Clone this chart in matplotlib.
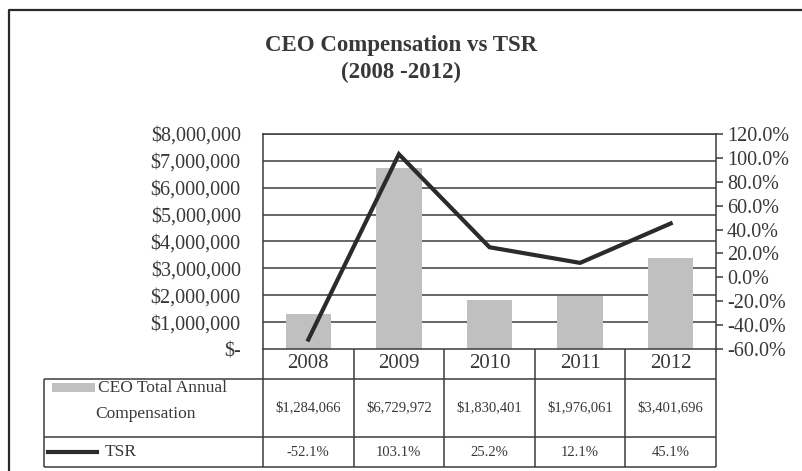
import numpy as np
import matplotlib
matplotlib.use("Agg")
import matplotlib.pyplot as plt
from matplotlib.patches import Rectangle

# Chart data
years = ["2008", "2009", "2010", "2011", "2012"]
comp = [1284066, 6729972, 1830401, 1976061, 3401696]
tsr = [-52.1, 103.1, 25.2, 12.1, 45.1]
comp_labels = ["$1,284,066", "$6,729,972", "$1,830,401", "$1,976,061", "$3,401,696"]
tsr_labels = ["-52.1%", "103.1%", "25.2%", "12.1%", "45.1%"]
left_ticks = [0, 1e6, 2e6, 3e6, 4e6, 5e6, 6e6, 7e6, 8e6]
right_ticks = [-60, -40, -20, 0, 20, 40, 60, 80, 100, 120]

plt.rcParams["font.family"] = ["Liberation Serif", "DejaVu Serif"]
txt = "#383838"
grid_c = "#3c3c3c"
bar_c = "#c0c0c0"
line_c = "#2b2b2b"

W, H = 802, 471
fig = plt.figure(figsize=(W / 100, H / 100), dpi=100)

# pixel-coordinate overlay for frame and table
tax = fig.add_axes([0, 0, 1, 1])
tax.set_xlim(0, W)
tax.set_ylim(H, 0)
tax.axis("off")

# plot area in pixels
px0, px1, py0, py1 = 263, 716, 134, 349
ax = fig.add_axes([px0 / W, (H - py1) / H, (px1 - px0) / W, (py1 - py0) / H])
x = np.arange(len(years))
ax.bar(x, comp, width=0.5, color=bar_c, zorder=2)
ax.set_xlim(-0.5, len(years) - 0.5)
ax.set_ylim(0, 8e6)
ax.set_yticks(left_ticks)
ax.set_yticklabels(["$-"] + ["${:,.0f}".format(v) for v in left_ticks[1:]])
ax.tick_params(axis="y", length=0, pad=16, labelsize=14.5, labelcolor=txt)
ax.set_xticks([])
for v in left_ticks[1:]:
    ax.axhline(v, color=grid_c, lw=1.1, zorder=1)
for s in ["left", "right", "top", "bottom"]:
    ax.spines[s].set_color(grid_c)
    ax.spines[s].set_linewidth(1.1)
ax.patch.set_alpha(0)

ax2 = ax.twinx()
ax2.plot(x, tsr, color=line_c, lw=3, zorder=3, solid_joinstyle="miter")
ax2.set_ylim(-60, 120)
ax2.set_yticks(right_ticks)
ax2.set_yticklabels(["{:.1f}%".format(v) for v in right_ticks])
ax2.tick_params(axis="y", length=5, width=1.1, color=grid_c, pad=3,
                labelsize=14.5, labelcolor=txt)
for s in ["left", "right", "top", "bottom"]:
    ax2.spines[s].set_visible(False)

fig.text(0.5, (H - 45) / H, "CEO Compensation vs TSR", ha="center", va="center",
         fontsize=16.5, fontweight="bold", color=txt)
fig.text(0.5, (H - 72) / H, "(2008 -2012)", ha="center", va="center",
         fontsize=16.5, fontweight="bold", color=txt)

# outer frame
tax.plot([9, 9, W + 5], [H + 5, 10, 10], color="#2a2a2a", lw=1.6)

# table
edges = np.linspace(px0, px1, len(years) + 1)
centers = (edges[:-1] + edges[1:]) / 2
tl = 44
r0, r1, r2, r3 = py1, 379, 437, 467
lw = 1.1
tax.hlines([r1, r2, r3], tl, px1, color=grid_c, lw=lw)
tax.vlines(edges, r0, r3, color=grid_c, lw=lw)
tax.vlines([tl], r1, r3, color=grid_c, lw=lw)
for c, yr, cl, tl_ in zip(centers, years, comp_labels, tsr_labels):
    tax.text(c, 364, yr, ha="center", va="center", fontsize=15, color=txt)
    tax.text(c, 408, cl, ha="center", va="center", fontsize=10.5, color=txt)
    tax.text(c, 452, tl_, ha="center", va="center", fontsize=10.5, color=txt)

tax.add_patch(Rectangle((52, 383), 43, 9, color=bar_c, lw=0))
tax.text(98, 388, "CEO Total Annual", ha="left", va="center", fontsize=12.5, color=txt)
tax.text(145, 414, "Compensation", ha="center", va="center", fontsize=12.5, color=txt)
tax.plot([48, 97], [452, 452], color=line_c, lw=3)
tax.text(105, 452, "TSR", ha="left", va="center", fontsize=12.5, color=txt)

fig.savefig("out.png", dpi=100)
